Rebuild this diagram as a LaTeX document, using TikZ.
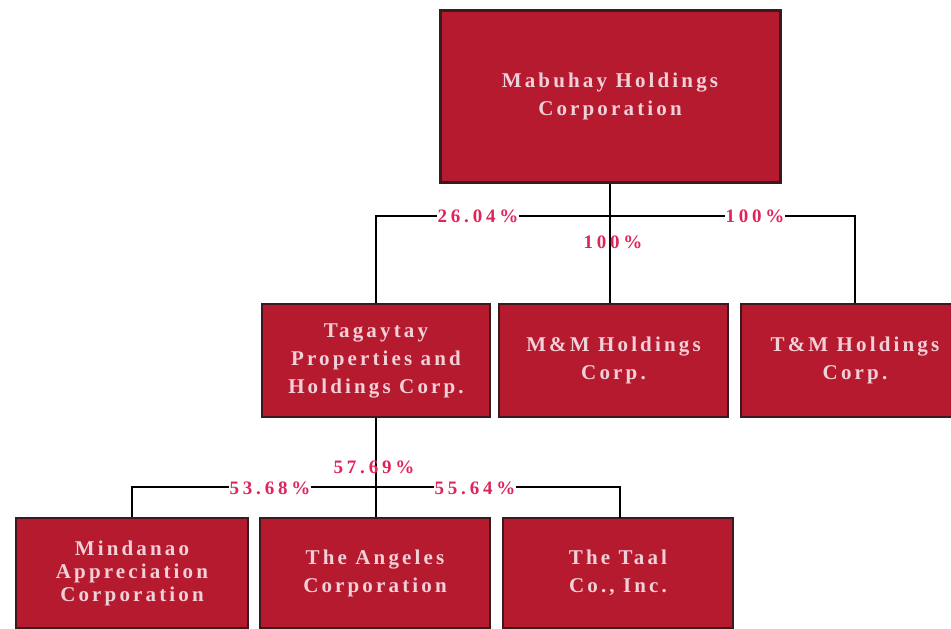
\documentclass[tikz,border=0pt]{standalone}
\usepackage{fontspec}
\setmainfont{Liberation Serif}
\newfontfamily\boxfont[LetterSpace=15]{Liberation Serif}
\newfontfamily\pctfont[LetterSpace=20]{Liberation Serif}
\definecolor{boxred}{HTML}{B51A2E}
\definecolor{boxedge}{HTML}{3A1A1C}
\definecolor{boxtext}{HTML}{F2D0D8}
\definecolor{pct}{HTML}{E0245A}
\begin{document}
\begin{tikzpicture}[x=1pt,y=-1pt,
  cbox/.style={draw=boxedge, line width=2pt, fill=boxred, text=boxtext,
    font=\boxfont\bfseries\fontsize{21}{28}\selectfont, align=center,
    inner sep=0pt, minimum width=228pt, minimum height=113pt},
  lowbox/.style={cbox, minimum width=230pt, minimum height=110pt},
  pctlab/.style={text=pct, font=\pctfont\bfseries\fontsize{19}{21}\selectfont, inner sep=1pt},
  conn/.style={draw=black, line width=1.3pt}]
\useasboundingbox (0,0) rectangle (951,629);
% nodes
\node[cbox, line width=3pt, minimum width=340pt, minimum height=172pt] (top) at (610,96) {Mabuhay Holdings\\Corporation};
\node[cbox] (tag) at (376,360.5) {Tagaytay\\Properties and\\Holdings Corp.};
\node[cbox, minimum width=229pt] (mm) at (613.5,360.5) {M\&M Holdings\\Corp.};
\node[cbox] (tm) at (855,360.5) {T\&M Holdings\\Corp.};
\node[lowbox, minimum width=232pt, font=\boxfont\bfseries\fontsize{21}{23}\selectfont] (min) at (132,573) {Mindanao\\Appreciation\\Corporation};
\node[lowbox] (ang) at (375,573) {The Angeles\\Corporation};
\node[lowbox] (taal) at (618,573) {The Taal\\Co., Inc.};
% coordinates
\coordinate (b1) at (612,216);
\coordinate (b2) at (375,487);
\coordinate (taaltop) at (620,518);
% connectors level 1
\draw[conn] (top.south) -- (top.south |- mm.north);
\draw[conn] (tag.north) |- (b1) -| (tm.north);
% connectors level 2
\draw[conn] (tag.south) -- (tag.south |- ang.north);
\draw[conn] (min.north) |- (b2) -| (taaltop);
% labels
\node[pctlab, fill=white] (l1) at (478,216) {26.04\%};
\node[pctlab] (l2) at (613,242) {100\%};
\node[pctlab, fill=white] (l3) at (755,216) {100\%};
\node[pctlab, fill=white] (l4) at (270,488) {53.68\%};
\node[pctlab] (l5) at (374,467) {57.69\%};
\node[pctlab, fill=white] (l6) at (475,488) {55.64\%};
\end{tikzpicture}
\end{document}
